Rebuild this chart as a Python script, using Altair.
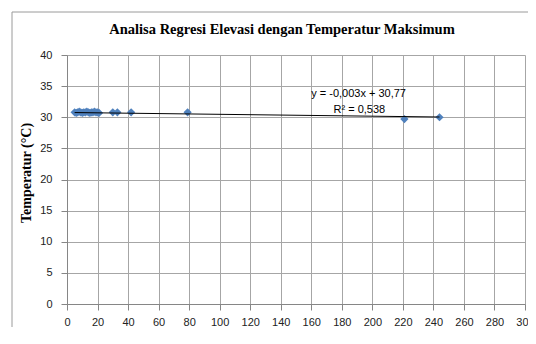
import altair as alt
import pandas as pd

# ---- data ----
elevasi = [5, 6, 7, 8, 9, 10, 11, 12, 13, 14, 15, 16, 17, 18, 19, 20, 21,
           30, 33, 42, 79, 221, 244]
temperatur = [30.8, 30.7, 30.8, 30.9, 30.8, 30.7, 30.8, 30.8, 30.9, 30.8, 30.7,
              30.8, 30.8, 30.9, 30.8, 30.8, 30.7, 30.8, 30.8, 30.8, 30.8,
              29.7, 30.0]
trend_slope = -0.003
trend_intercept = 30.77
eq_lines = ["y = -0,003x + 30,77", "R² = 0,538"]
eq_x = [191, 191.5]
eq_y = [33.8, 31.2]
x_ticks = list(range(0, 301, 20))
y_ticks = list(range(0, 41, 5))
chart_title = "Analisa Regresi Elevasi dengan Temperatur Maksimum"

pts = pd.DataFrame({"Elevasi": elevasi, "Temperatur": temperatur})
xmin, xmax = min(elevasi), max(elevasi)
trend = pd.DataFrame({
    "Elevasi": [xmin, xmax],
    "Temperatur": [trend_intercept + trend_slope * xmin,
                   trend_intercept + trend_slope * xmax],
})
eq = pd.DataFrame({"text": eq_lines, "Elevasi": eq_x, "Temperatur": eq_y})

W, H = 458, 249
xs = alt.Scale(domain=[0, 300], nice=False, zero=False)
ys = alt.Scale(domain=[0, 40], nice=False)

x_axis = alt.Axis(values=x_ticks, title="Elevasi (m)", grid=True,
                  gridColor="#a6a6a6", gridOpacity=1, tickSize=6,
                  labelPadding=6, labelOverlap=False, labelFlush=False,
                  titleY=36, titleX=W / 2 - 1)
y_axis = alt.Axis(values=y_ticks, title="Temperatur (°C)", grid=True,
                  gridColor="#a6a6a6", gridOpacity=1, tickSize=6,
                  labelPadding=9, labelOverlap=False, labelFlush=False,
                  titleX=-34, titleY=H / 2 - 7)

X = alt.X("Elevasi:Q", scale=xs, axis=x_axis)
Y = alt.Y("Temperatur:Q", scale=ys, axis=y_axis)

points = alt.Chart(pts).mark_point(
    shape="diamond", filled=True, size=68, color="#4F81BD", opacity=1
).encode(x=X, y=Y)

line = alt.Chart(trend).mark_line(color="#000000", strokeWidth=1).encode(x=X, y=Y)

eq_text = alt.Chart(eq).mark_text(
    font="Liberation Sans", fontSize=11, color="#000000", align="center", baseline="middle"
).encode(x=X, y=Y, text="text:N")

one = alt.Data(values=[{"a": 1}])
frame_left = alt.Chart(one).mark_rule(color="#9a9a9a", strokeWidth=1).encode(
    x=alt.value(-55), y=alt.value(-43), y2=alt.value(500))
frame_top = alt.Chart(one).mark_rule(color="#9a9a9a", strokeWidth=1).encode(
    x=alt.value(-55), x2=alt.value(700), y=alt.value(-43))

title_mark = alt.Chart(alt.Data(values=[{"t": chart_title}])).mark_text(
    font="Liberation Serif", fontSize=14.5, fontWeight="bold", color="#000000",
    align="center", baseline="middle"
).encode(x=alt.value(215), y=alt.value(-25), text="t:N")

chart = alt.layer(points, line, eq_text, frame_left, frame_top, title_mark).properties(
    width=W, height=H,
    background="#ffffff",
    autosize=alt.AutoSizeParams(type="none"),
    padding={"left": 59, "top": 47, "right": 3, "bottom": 23},
).configure_view(
    stroke=None
).configure_axis(
    labelFont="Liberation Sans", labelFontSize=11, labelColor="#222222",
    titleFont="Liberation Serif", titleFontSize=14, titleFontWeight="bold",
    titleColor="#000000",
    domainColor="#868686", tickColor="#868686",
)

chart.save("out.html", embed_options={"renderer": "svg", "actions": False})
